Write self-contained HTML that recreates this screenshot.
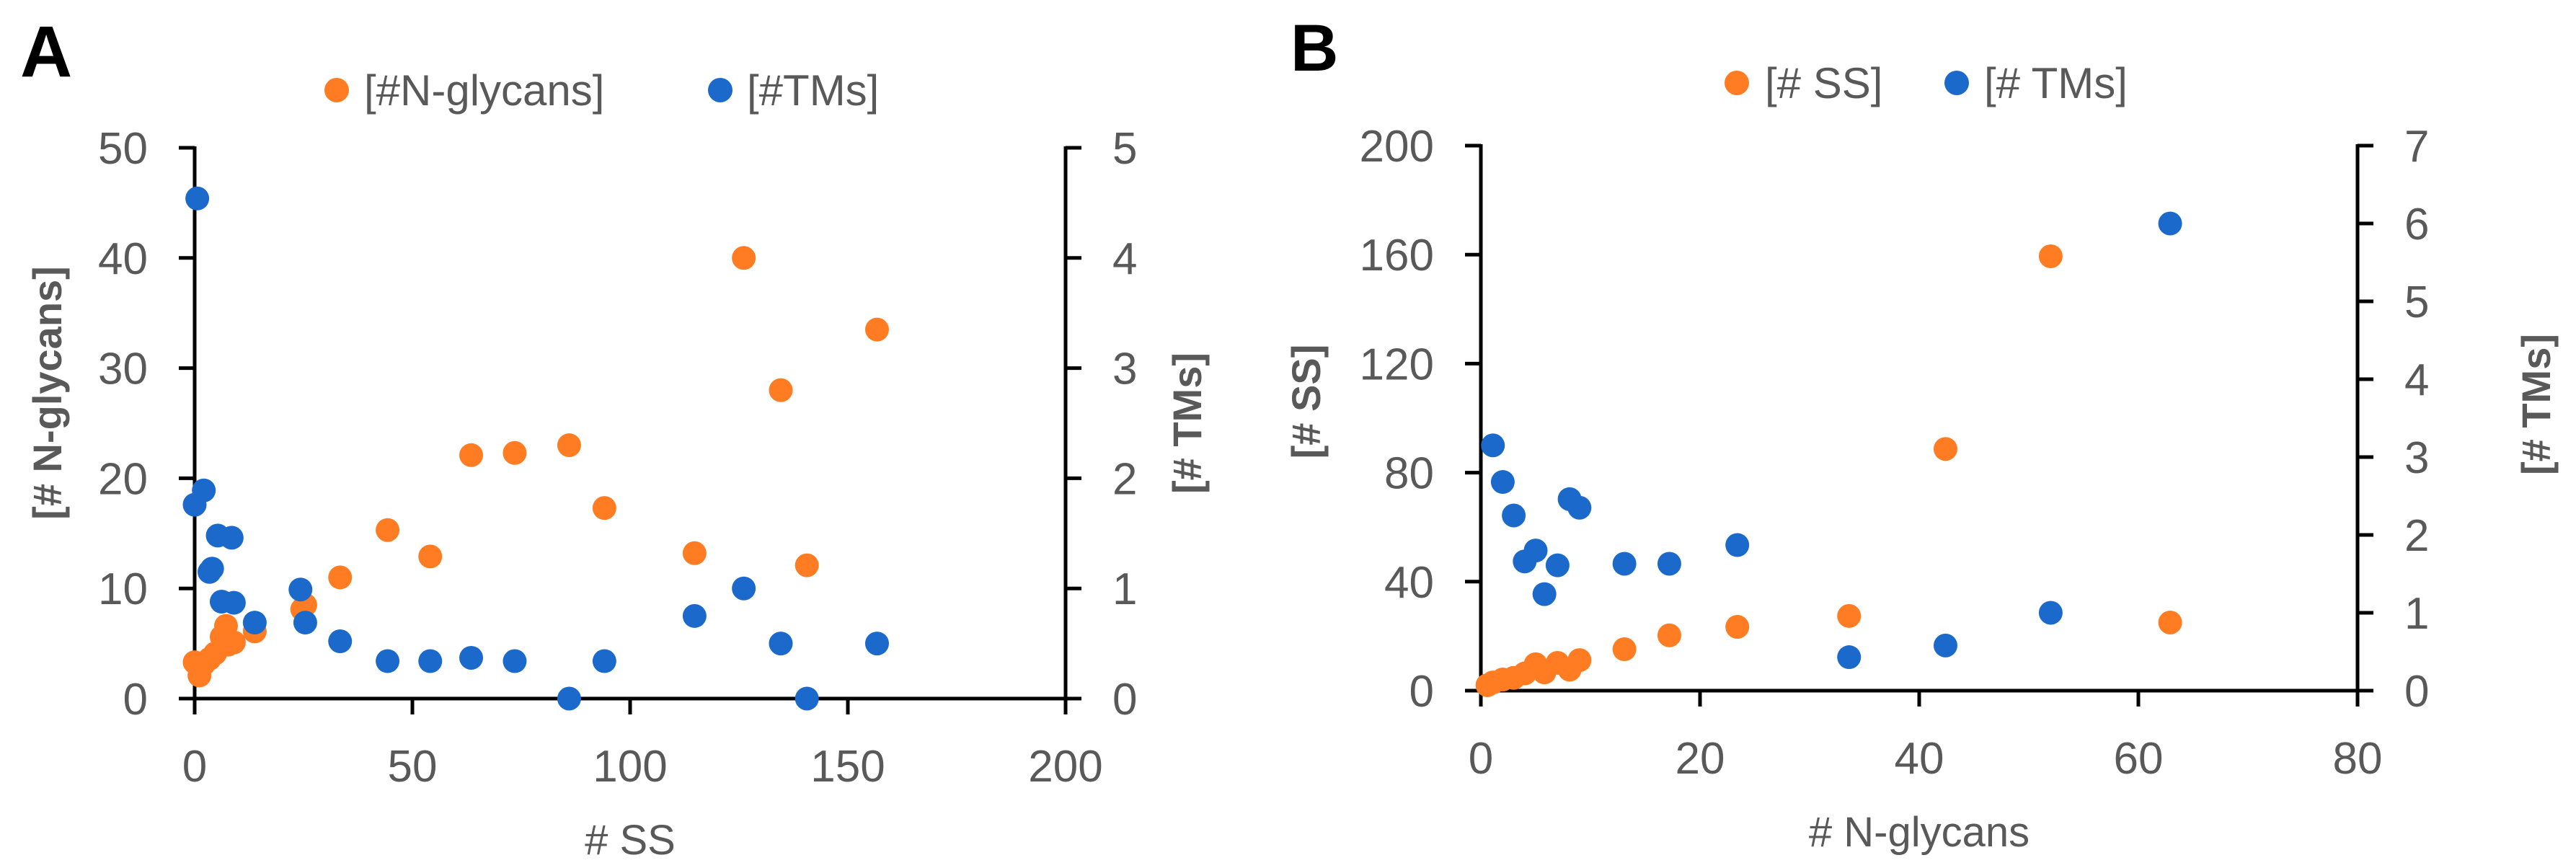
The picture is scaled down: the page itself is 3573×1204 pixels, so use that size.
<!DOCTYPE html>
<html><head><meta charset="utf-8"><style>
html,body{margin:0;padding:0;background:#fff;}
svg{display:block;font-family:"Liberation Sans",sans-serif;}
</style></head><body>
<svg id="fig" width="3573" height="1204" viewBox="0 0 3573 1204" xmlns="http://www.w3.org/2000/svg">
<rect width="3573" height="1204" fill="#fff"/>
<text x="28" y="106" font-size="100" font-weight="bold" fill="#000">A</text>
<text x="1790" y="98" font-size="92" font-weight="bold" fill="#000">B</text>
<g>
<circle cx="467" cy="125" r="17" fill="#ff7c22"/>
<text x="505" y="146" font-size="60" fill="#595959">[#N-glycans]</text>
<circle cx="999" cy="125" r="17" fill="#1b6acb"/>
<text x="1036" y="146" font-size="60" fill="#595959">[#TMs]</text>
</g>
<g>
<circle cx="2409" cy="115" r="17" fill="#ff7c22"/>
<text x="2448" y="136" font-size="60" fill="#595959">[# SS]</text>
<circle cx="2714" cy="115" r="17" fill="#1b6acb"/>
<text x="2752" y="136" font-size="60" fill="#595959">[# TMs]</text>
</g>
</svg>
<script>
// Panel A data
const aSS_orange = [126.1,156.7,134.6,86.0,73.5,63.5,94.1,44.3,54.1,114.8,140.6,33.4,24.7,25.4,13.8,7.2,6.2,9.0,7.7,4.7,3.4,0,1.1,2.0];
const aGlycans = [40.0,33.5,28.0,23.0,22.3,22.1,17.3,15.3,12.9,13.2,12.1,11.0,8.1,8.5,6.1,6.6,5.6,5.1,4.9,4.1,3.6,3.3,2.1,3.1];
const aSS_blue = [0.6,2.1,0,5.3,8.5,4.0,3.4,6.2,9.0,13.8,24.3,25.4,33.4,44.3,54.1,63.5,73.5,86.0,94.1,114.8,126.1,134.6,140.6,156.7];
const aTMs = [4.54,1.89,1.76,1.48,1.46,1.18,1.15,0.88,0.87,0.69,0.99,0.69,0.52,0.34,0.34,0.37,0.34,0,0.34,0.75,1.0,0.5,0,0.5];
const aXTicks = [0,50,100,150,200];
const aYTicks = [0,10,20,30,40,50];
const aY2Ticks = [0,1,2,3,4,5];
// Panel B data
const bGly_orange = [52.0,42.4,33.6,62.9,23.4,17.2,13.1,9.0,8.1,7.0,5.8,5.0,4.0,3.0,2.0,1.1,0.6];
const bSS = [159.4,88.7,27.4,25.0,23.4,20.3,15.2,11.2,7.7,10.2,6.7,9.7,6.3,4.7,4.1,3.0,2.0];
const bGly_blue = [62.9,52.0,42.4,33.6,23.4,17.2,13.1,8.1,9.0,7.0,5.8,5.0,4.0,3.0,2.0,1.1];
const bTMs = [6.0,1.0,0.58,0.43,1.87,1.63,1.63,2.46,2.35,1.61,1.24,1.8,1.66,2.25,2.68,3.15];
const bXTicks = [0,20,40,60,80];
const bYTicks = [0,40,80,120,160,200];
const bY2Ticks = [0,1,2,3,4,5,6,7];

const NS="http://www.w3.org/2000/svg";
const svg=document.getElementById('fig');
function mk(tag,attrs,parent){const e=document.createElementNS(NS,tag);for(const k in attrs)e.setAttribute(k,attrs[k]);(parent||svg).appendChild(e);return e;}

function panel(p){
  const g=mk('g',{});
  
  
  const xS=v=>p.x0+(v-p.xT[0])/(p.xT[p.xT.length-1]-p.xT[0])*(p.x1-p.x0);
  const yS=v=>p.y0-(v-p.yT[0])/(p.yT[p.yT.length-1]-p.yT[0])*(p.y0-p.y1);
  const y2S=v=>p.y0-(v-p.y2T[0])/(p.y2T[p.y2T.length-1]-p.y2T[0])*(p.y0-p.y1);
  const st={stroke:'#000','stroke-width':5};
  const xa=mk('line',Object.assign({x1:p.x0-22,y1:p.y0,x2:p.x1+22,y2:p.y0},st),g);
  
  
  const ya=mk('line',Object.assign({x1:p.x0,y1:p.y1-2,x2:p.x0,y2:p.y0+22},st),g);
  
  
  const y2a=mk('line',Object.assign({x1:p.x1,y1:p.y1-2,x2:p.x1,y2:p.y0+22},st),g);
  
  
  p.xT.forEach(v=>{
    const x=xS(v);
    mk('line',Object.assign({x1:x,y1:p.y0,x2:x,y2:p.y0+22},st),g);
    const t=mk('text',{x:x,y:p.y0+115,'text-anchor':'middle','font-size':62,fill:'#595959'},g);
    t.textContent=v;
    
    
  });
  p.yT.forEach(v=>{
    const y=yS(v);
    mk('line',Object.assign({x1:p.x0-22,y1:y,x2:p.x0,y2:y},st),g);
    const t=mk('text',{x:p.x0-65,y:y+22,'text-anchor':'end','font-size':62,fill:'#595959'},g);
    t.textContent=v;
    
    
  });
  p.y2T.forEach(v=>{
    const y=y2S(v);
    mk('line',Object.assign({x1:p.x1,y1:y,x2:p.x1+22,y2:y},st),g);
    const t=mk('text',{x:p.x1+65,y:y+22,'text-anchor':'start','font-size':62,fill:'#595959'},g);
    t.textContent=v;
    
    
  });
  const xt=mk('text',{x:(p.x0+p.x1)/2,y:p.xtY,'text-anchor':'middle','font-size':58,fill:'#595959'},g);
  xt.textContent=p.xTitle;
  
  
  const yt=mk('text',{x:0,y:0,'text-anchor':'middle','font-size':56,'font-weight':'bold',fill:'#595959',transform:`translate(${p.ytX},${p.ytY}) rotate(-90)`},g);
  yt.textContent=p.yTitle;
  
  
  const y2t=mk('text',{x:0,y:0,'text-anchor':'middle','font-size':56,'font-weight':'bold',fill:'#595959',transform:`translate(${p.y2tX},${p.y2tY}) rotate(-90)`},g);
  y2t.textContent=p.y2Title;
  
  
  p.ox.forEach((v,i)=>{
    const c=mk('circle',{cx:xS(v),cy:yS(p.oy[i]),r:16.5,fill:'#ff7c22'},g);
    
    
  });
  p.bx.forEach((v,i)=>{
    const c=mk('circle',{cx:xS(v),cy:y2S(p.by[i]),r:16.5,fill:'#1b6acb'},g);
    
    
  });
}
panel({id:'panel-a',x0:270,x1:1478,y0:969,y1:205,xT:aXTicks,yT:aYTicks,y2T:aY2Ticks,
  ox:aSS_orange,oy:aGlycans,bx:aSS_blue,by:aTMs,xTitle:'# SS',xtY:1185,
  yTitle:'[# N-glycans]',ytX:85,ytY:545,y2Title:'[# TMs]',y2tX:1666,y2tY:587});
panel({id:'panel-b',x0:2054,x1:3270,y0:958,y1:202,xT:bXTicks,yT:bYTicks,y2T:bY2Ticks,
  ox:bGly_orange,oy:bSS,bx:bGly_blue,by:bTMs,xTitle:'# N-glycans',xtY:1174,
  yTitle:'[# SS]',ytX:1831,ytY:557,y2Title:'[# TMs]',y2tX:3537,y2tY:561});
</script>
</body></html>
